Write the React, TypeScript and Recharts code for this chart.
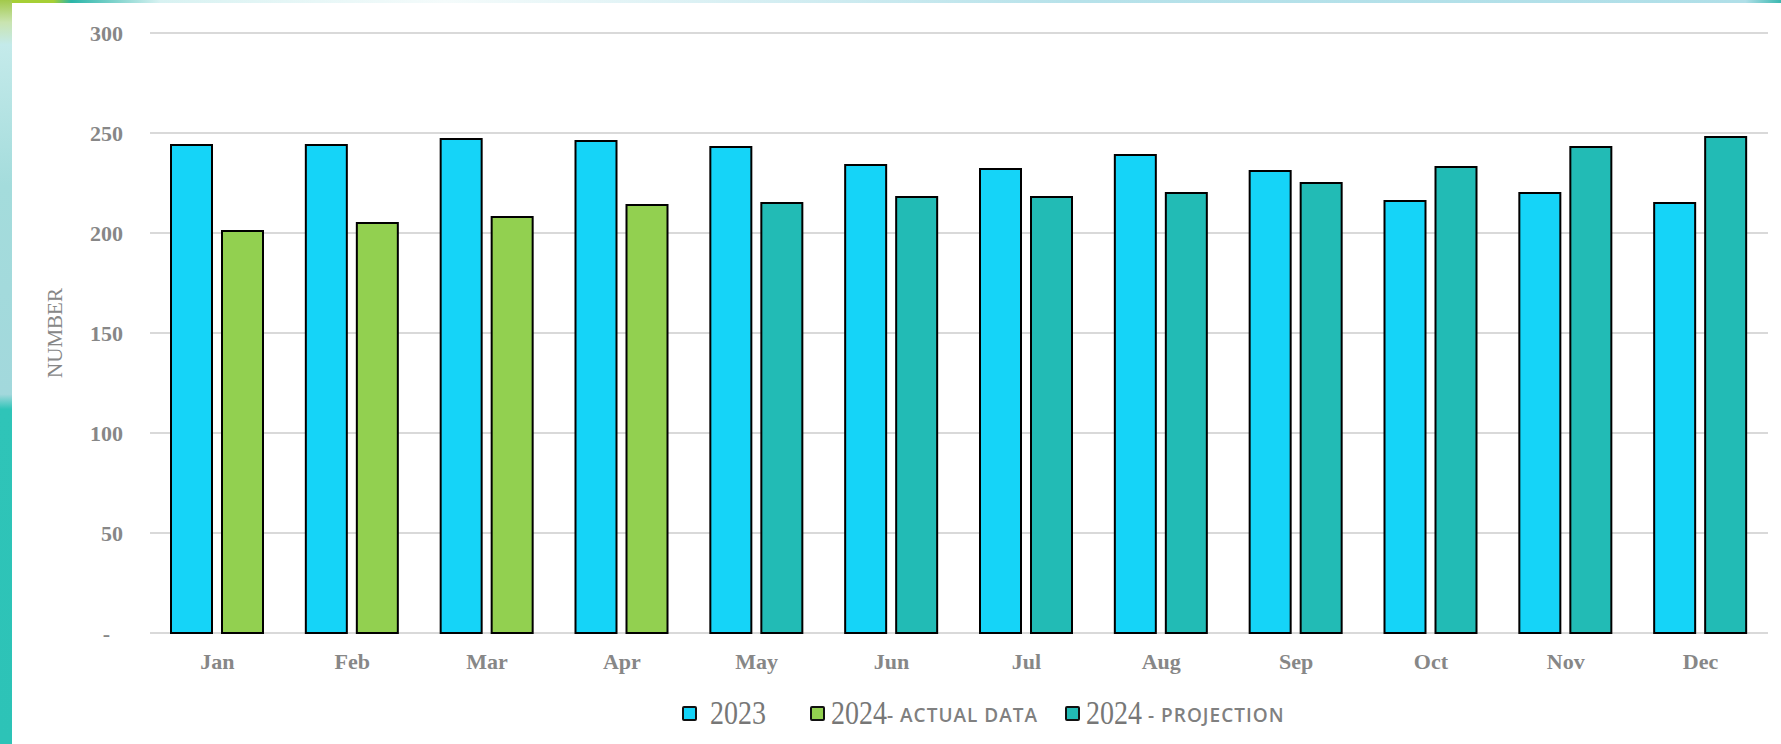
import React from 'react';
import { BarChart, Bar, XAxis, YAxis, CartesianGrid, Legend, Cell } from 'recharts';

const months = ['Jan', 'Feb', 'Mar', 'Apr', 'May', 'Jun', 'Jul', 'Aug', 'Sep', 'Oct', 'Nov', 'Dec'];
const values2023 = [244, 244, 247, 246, 243, 234, 232, 239, 231, 216, 220, 215];
// 2024 actual data runs Jan-Apr, projection covers May-Dec
const actual2024 = [201, 205, 208, 214];
const projection2024 = [215, 218, 218, 220, 225, 233, 243, 248];
const yTicks = [0, 50, 100, 150, 200, 250, 300];

const COLOR_2023 = '#15D4F8';
const COLOR_ACTUAL = '#92D050';
const COLOR_PROJECTION = '#22BBB5';
const TEXT_GRAY = '#878787';

const legendItems = [
  { year: '2023', suffix: '', color: COLOR_2023, gap: 44 },
  { year: '2024', suffix: '- ACTUAL DATA', color: COLOR_ACTUAL, gap: 27 },
  { year: '2024', suffix: '\u00a0- PROJECTION', color: COLOR_PROJECTION, gap: 0 },
];

const data = months.map((month, i) => {
  const projected = i >= actual2024.length;
  return {
    month,
    y2023: values2023[i],
    y2024: projected ? projection2024[i - actual2024.length] : actual2024[i],
    projected,
  };
});

const YTick = (props: any) => {
  const { x, y, payload } = props;
  const isZero = payload.value === 0;
  return (
    <text
      x={isZero ? x - 13 : x}
      y={y}
      dy="0.355em"
      textAnchor="end"
      fill={TEXT_GRAY}
      fontSize={22}
      fontWeight="bold"
      fontFamily="'Liberation Serif', 'Times New Roman', serif"
    >
      {isZero ? '-' : payload.value}
    </text>
  );
};

const renderLegend = () => (
  <div style={{ display: 'flex', alignItems: 'center', height: 40, whiteSpace: 'nowrap' }}>
    {legendItems.map((item, i) => (
      <div key={i} style={{ display: 'flex', alignItems: 'center', marginRight: item.gap }}>
        <span
          style={{
            display: 'inline-block',
            width: 11,
            height: 11,
            background: item.color,
            border: '2px solid #111',
            borderRadius: 2,
            marginRight: i === 0 ? 13 : 6,
          }}
        />
        <span
          style={{
            display: 'inline-block',
            fontFamily: "'Liberation Serif', 'Times New Roman', serif",
            fontSize: 28,
            color: '#777',
            transform: 'scaleY(1.2)',
          }}
        >
          {item.year}
        </span>
        {item.suffix && (
          <span
            style={{
              fontFamily: "'Open Sans', Arial, sans-serif",
              fontSize: 19,
              fontWeight: 600,
              letterSpacing: 1,
              color: '#808080',
              marginTop: 4,
            }}
          >
            {item.suffix}
          </span>
        )}
      </div>
    ))}
  </div>
);

export default function App() {
  return (
    <div style={{ position: 'absolute', left: 0, top: 0, width: 1781, height: 744, background: '#fff', overflow: 'hidden' }}>
      <div
        style={{
          position: 'absolute',
          left: 0,
          top: 0,
          width: 1781,
          height: 3,
          background: 'linear-gradient(90deg, #a6cf35 0%, #a6cf35 3%, #2bb5a8 4%, #d8f2f2 9%, #f4fbfb 25%, #b7e2ea 60%, #b0dfe8 98%, #3bb8b0 100%)',
        }}
      />
      <div
        style={{
          position: 'absolute',
          left: 0,
          top: 0,
          width: 12,
          height: 744,
          background: 'linear-gradient(180deg, #a2c94a 0%, #c9e4b0 3%, #c4eaea 6%, #a4dcdc 25%, #a2d8dc 53%, #2fc4b8 55%, #2dc3b7 100%)',
        }}
      />
      <BarChart
        width={1781}
        height={744}
        data={data}
        margin={{ top: 33, right: 13, left: 0, bottom: 41 }}
        barSize={41}
        barGap={10}
      >
        <CartesianGrid vertical={false} stroke="#D9D9D9" strokeWidth={2} />
        <XAxis
          dataKey="month"
          axisLine={false}
          tickLine={false}
          height={30}
          tickSize={0}
          tickMargin={20}
          tick={{ fill: TEXT_GRAY, fontSize: 22, fontWeight: 'bold', fontFamily: "'Liberation Serif', 'Times New Roman', serif" }}
        />
        <YAxis
          width={150}
          domain={[0, 300]}
          ticks={yTicks}
          axisLine={false}
          tickLine={false}
          tickSize={0}
          tickMargin={27}
          tick={<YTick />}
          label={{
            value: 'NUMBER',
            angle: -90,
            position: 'insideLeft',
            offset: 55,
            fill: TEXT_GRAY,
            fontSize: 21,
            fontFamily: "'Liberation Serif', 'Times New Roman', serif",
            style: { textAnchor: 'middle' },
          }}
        />
        <Legend
          verticalAlign="bottom"
          content={renderLegend}
          wrapperStyle={{ left: 682, bottom: 11, width: 'auto' }}
        />
        <Bar dataKey="y2023" name="2023" fill={COLOR_2023} stroke="#000" strokeWidth={2} isAnimationActive={false} />
        <Bar dataKey="y2024" name="2024" fill={COLOR_ACTUAL} stroke="#000" strokeWidth={2} isAnimationActive={false}>
          {data.map((d, i) => (
            <Cell key={i} fill={d.projected ? COLOR_PROJECTION : COLOR_ACTUAL} />
          ))}
        </Bar>
      </BarChart>
    </div>
  );
}
